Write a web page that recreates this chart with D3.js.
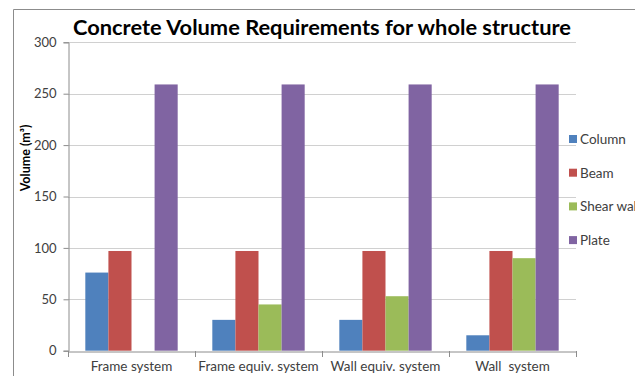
<!DOCTYPE html>
<html>
<head>
<meta charset="utf-8">
<script src="https://cdn.jsdelivr.net/npm/d3@7"></script>
<style>
  html, body { margin: 0; padding: 0; background: #fff; overflow: hidden; }
  svg { display: block; }
</style>
</head>
<body>
<svg id="chart" width="635" height="376"></svg>
<script>
// Structural systems compared
const categories = ["Frame system", "Frame equiv. system", "Wall equiv. system", "Wall  system"];
// Structural members (series)
const seriesNames = ["Column", "Beam", "Shear wall", "Plate"];
const seriesColors = ["#4F81BD", "#C0504D", "#9BBB59", "#8064A2"];
// Concrete volume (m³) per member, one value per system
const columnValues = [76, 30, 30, 15];
const beamValues = [97, 97, 97, 97];
const shearWallValues = [0, 45, 53, 90];
const plateValues = [259, 259, 259, 259];
const yTicks = [0, 50, 100, 150, 200, 250, 300];

const seriesValues = [columnValues, beamValues, shearWallValues, plateValues];

const svg = d3.select("#chart");
const font = "Lato, 'Open Sans', sans-serif";

const plot = { left: 68, right: 576, top: 42.3, bottom: 350.7 };

const x = d3.scaleBand().domain(categories).range([plot.left, plot.right]).padding(0);
const xs = d3.scaleBand().domain(seriesNames).range([0, x.bandwidth()])
  .paddingInner(0).paddingOuter(0.75);
const y = d3.scaleLinear().domain([0, 300]).range([plot.bottom, plot.top]);

// outer chart frame (left and top edges)
svg.append("path")
  .attr("d", `M13.5,376 V9.5 H635`)
  .attr("fill", "none").attr("stroke", "#8c8c8c").attr("stroke-width", 1);

// horizontal gridlines
svg.append("g").selectAll("line")
  .data(yTicks.filter(t => t > 0))
  .join("line")
  .attr("x1", plot.left).attr("x2", plot.right)
  .attr("y1", d => Math.round(y(d)) + 0.5).attr("y2", d => Math.round(y(d)) + 0.5)
  .attr("stroke", "#d0d0d0").attr("stroke-width", 1);

// y axis
const yAxis = svg.append("g")
  .attr("transform", `translate(${plot.left + 0.5},0)`)
  .call(d3.axisLeft(y).tickValues(yTicks).tickSize(5).tickPadding(7));
yAxis.select(".domain").attr("stroke", "#8c8c8c");
yAxis.selectAll(".tick line").attr("stroke", "#8c8c8c");
yAxis.selectAll(".tick text")
  .attr("fill", "#404040").style("font-family", font).style("font-size", "13px");

// bars
const groups = svg.append("g").selectAll("g")
  .data(categories)
  .join("g")
  .attr("transform", d => `translate(${x(d)},0)`);

groups.selectAll("rect")
  .data((d, i) => seriesNames.map((s, j) => ({ s, j, v: seriesValues[j][i] })))
  .join("rect")
  .attr("x", d => xs(d.s))
  .attr("width", xs.bandwidth())
  .attr("y", d => y(d.v))
  .attr("height", d => y(0) - y(d.v))
  .attr("fill", d => seriesColors[d.j]);

// x axis
const xAxis = svg.append("g")
  .attr("transform", `translate(0,${Math.round(plot.bottom) + 0.5})`)
  .call(d3.axisBottom(x).tickSize(0).tickPadding(10));
xAxis.select(".domain").attr("stroke", "#8c8c8c");
xAxis.selectAll(".tick text")
  .attr("fill", "#404040").style("font-family", font).style("font-size", "13.5px")
  .style("white-space", "pre");

// category boundary ticks
svg.append("g").selectAll("line")
  .data(d3.range(categories.length + 1))
  .join("line")
  .attr("x1", i => Math.round(plot.left + i * x.bandwidth()) + 0.5)
  .attr("x2", i => Math.round(plot.left + i * x.bandwidth()) + 0.5)
  .attr("y1", Math.round(plot.bottom))
  .attr("y2", Math.round(plot.bottom) + 6)
  .attr("stroke", "#8c8c8c");

// title
svg.append("text")
  .attr("x", 322).attr("y", 34.5)
  .attr("text-anchor", "middle")
  .attr("textLength", 498).attr("lengthAdjust", "spacingAndGlyphs")
  .style("font-family", font).style("font-size", "20px").style("font-weight", "bold")
  .attr("fill", "#000")
  .text("Concrete Volume Requirements for whole structure");

// y axis title
svg.append("text")
  .attr("transform", "translate(30,158) rotate(-90)")
  .attr("text-anchor", "middle")
  .style("font-family", font).style("font-size", "12.5px").style("font-weight", "bold")
  .attr("fill", "#000")
  .text("Volume (m³)");

// legend
const legend = svg.append("g").selectAll("g")
  .data(seriesNames)
  .join("g")
  .attr("transform", (d, i) => `translate(569,${139 + i * 33.7})`);
legend.append("rect")
  .attr("x", 0).attr("y", -4).attr("width", 8).attr("height", 8)
  .attr("fill", (d, i) => seriesColors[i]);
legend.append("text")
  .attr("x", 11).attr("y", 5)
  .style("font-family", font).style("font-size", "13.5px")
  .attr("fill", "#404040")
  .text(d => d);
</script>
</body>
</html>
